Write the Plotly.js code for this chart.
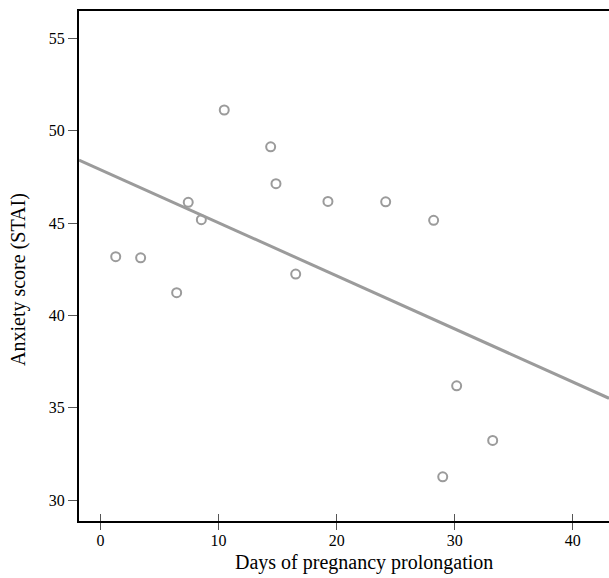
<!DOCTYPE html>
<html>
<head>
<meta charset="utf-8">
<script src="https://cdn.plot.ly/plotly-3.0.1.min.js"></script>
<style>html,body{margin:0;padding:0;background:#fff}</style>
</head>
<body>
<div id="chart" style="width:609px;height:578px"></div>
<script>
// Data
const daysProlongation = [10.48, 14.41, 14.86, 19.26, 7.43, 8.54, 1.29, 3.40, 16.53, 6.45, 24.15, 28.21, 30.16, 33.21, 28.98];
const anxietyScore     = [51.12, 49.13, 47.13, 46.17, 46.12, 45.18, 43.18, 43.12, 42.24, 41.23, 46.15, 45.15, 36.19, 33.23, 31.26];
// Regression line as drawn in the reference
const fitIntercept = 47.89;
const fitSlope = -0.2874;
const xTicks = [0, 10, 20, 30, 40];
const yTicks = [30, 35, 40, 45, 50, 55];
const xTitle = "Days of pregnancy prolongation";
const yTitle = "Anxiety score (STAI)";

const xRange = [-1.82, 43.06];
const yRange = [28.87, 56.48];
const fitX = xRange.slice();
const fitY = fitX.map(x => fitIntercept + fitSlope * x);

const grey = "#9b9b9b";
const font = '"Liberation Serif", serif';

const traces = [
  {x: fitX, y: fitY, mode: "lines", line: {color: grey, width: 3}, hoverinfo: "skip", showlegend: false},
  {x: daysProlongation, y: anxietyScore, mode: "markers", showlegend: false,
   marker: {symbol: "circle-open", size: 9, color: grey, line: {color: grey, width: 2}}}
];

const layout = {
  width: 609, height: 578,
  margin: {l: 79, r: 0, t: 11, b: 57},
  paper_bgcolor: "#fff", plot_bgcolor: "#fff",
  font: {family: font, color: "#000", size: 16},
  showlegend: false,
  xaxis: {range: xRange, tickvals: xTicks, ticktext: xTicks.map(String), ticks: "outside", ticklen: 7, tickwidth: 1, tickcolor: "#555",
          ticklabelstandoff: -3,
          showline: true, linecolor: "#000", linewidth: 2, mirror: true, showgrid: false, zeroline: false,
          tickfont: {family: font, size: 16, color: "#000"}},
  xaxis2: {range: xRange, overlaying: "x", anchor: "y", side: "bottom", tickvals: xTicks, showticklabels: false, ticks: "inside", ticklen: 7, tickwidth: 1, tickcolor: "#555",
           showline: false, showgrid: false, zeroline: false},
  yaxis: {range: yRange, tickvals: yTicks, ticktext: yTicks.map(String), ticks: "outside", ticklen: 9, tickwidth: 1, tickcolor: "#555",
          showline: true, linecolor: "#000", linewidth: 2, mirror: false, showgrid: false, zeroline: false,
          tickfont: {family: font, size: 16, color: "#000"}},
  annotations: [
    {text: xTitle, xref: "paper", yref: "paper", x: (364 - 79) / 530, y: -(562 - 521) / 510, xanchor: "center", yanchor: "middle", showarrow: false,
     font: {family: font, size: 20, color: "#000"}},
    {text: yTitle, xref: "paper", yref: "paper", x: -(79 - 18) / 530, y: (521 - 280) / 510, xanchor: "center", yanchor: "middle", textangle: -90, showarrow: false,
     font: {family: font, size: 20, color: "#000"}}
  ]
};

// invisible trace so the crossing inner ticks of xaxis2 are drawn
traces.push({x: [xRange[0]], y: [yRange[0]], xaxis: "x2", mode: "markers", marker: {opacity: 0}, hoverinfo: "skip", showlegend: false});

Plotly.newPlot("chart", traces, layout, {displayModeBar: false, staticPlot: true});
</script>
</body>
</html>
